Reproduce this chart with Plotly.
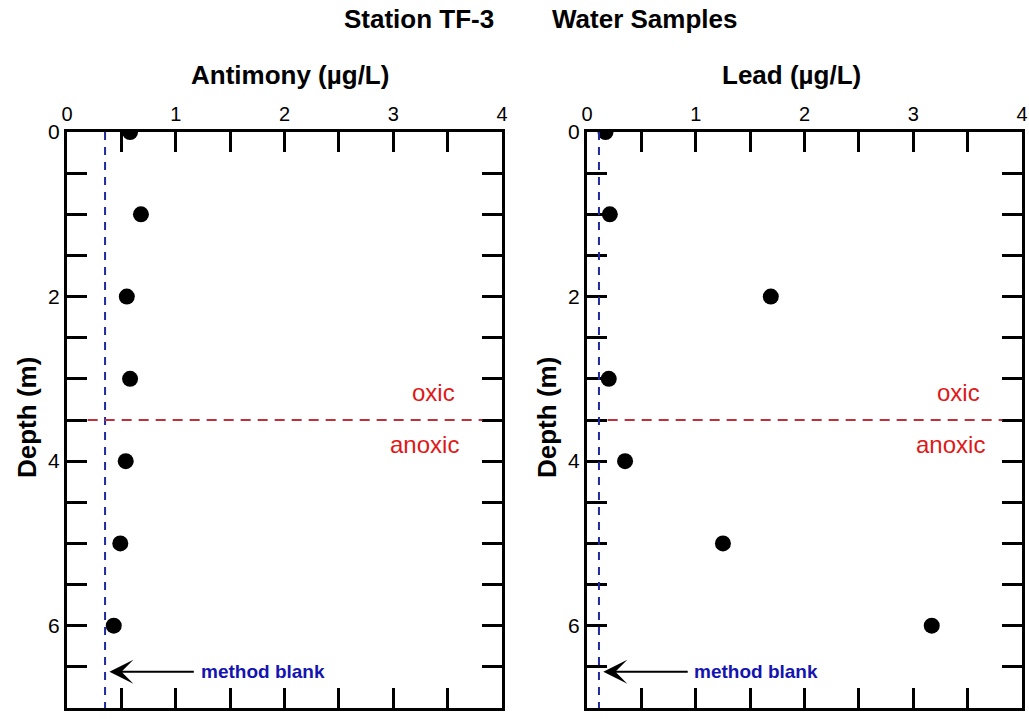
import plotly.graph_objects as go

# Sample depths and measured concentrations
depth_m = [0, 1, 2, 3, 4, 5, 6]
antimony_ugL = [0.58, 0.68, 0.55, 0.58, 0.54, 0.49, 0.43]
lead_ugL = [0.17, 0.21, 1.69, 0.20, 0.35, 1.25, 3.17]

# Method blank levels and oxic/anoxic boundary
antimony_blank = 0.35
lead_blank = 0.11
redox_depth = 3.5

x_ticks = [0, 0.5, 1, 1.5, 2, 2.5, 3, 3.5, 4]
x_ticktext = ["0", "", "1", "", "2", "", "3", "", "4"]
y_ticks = [0, 0.5, 1, 1.5, 2, 2.5, 3, 3.5, 4, 4.5, 5, 5.5, 6, 6.5, 7]
y_ticktext = ["0", "", "", "", "2", "", "", "", "4", "", "", "", "6", "", ""]

FONT = "Liberation Sans, Arial, sans-serif"
RED_LINE = "#c0303a"
RED_TEXT = "#e01818"
BLUE_LINE = "#1f2a9c"
BLUE_TEXT = "#1414b0"

fig = go.Figure()

panels = [
    ("x", "y", antimony_ugL, antimony_blank, 3.59, 3.62),
    ("x2", "y2", lead_ugL, lead_blank, 3.63, 3.68),
]

for xr, yr, values, blank, oxic_x, anoxic_x in panels:
    fig.add_trace(go.Scatter(
        x=values, y=depth_m, xaxis=xr, yaxis=yr, mode="markers",
        marker=dict(size=16, color="black"), showlegend=False,
    ))
    # method blank (vertical dashed line)
    fig.add_shape(type="line", xref=xr, yref=yr, x0=blank, x1=blank, y0=0, y1=7,
                  line=dict(color=BLUE_LINE, width=2, dash="8px,7px"))
    # oxic / anoxic boundary
    fig.add_shape(type="line", xref=xr, yref=yr, x0=0.19, x1=3.82,
                  y0=redox_depth, y1=redox_depth,
                  line=dict(color=RED_LINE, width=2, dash="10px,7px"))
    fig.add_annotation(xref=xr, yref=yr, x=oxic_x, y=3.17, text="oxic",
                       showarrow=False, xanchor="right", yanchor="middle",
                       font=dict(family=FONT, size=24, color=RED_TEXT))
    fig.add_annotation(xref=xr, yref=yr, x=anoxic_x, y=3.80, text="anoxic",
                       showarrow=False, xanchor="right", yanchor="middle",
                       font=dict(family=FONT, size=24, color=RED_TEXT))
    # arrow pointing to the method blank line
    fig.add_annotation(xref=xr, yref=yr, axref=xr, ayref=yr,
                       x=blank + 0.04, y=6.56, ax=blank + 0.83, ay=6.56, text="",
                       showarrow=True, arrowhead=3, arrowsize=2, arrowwidth=2,
                       arrowcolor="black")
    fig.add_annotation(xref=xr, yref=yr, x=blank + 0.86, y=6.56, text="<b>method blank</b>",
                       showarrow=False, xanchor="left", yanchor="middle",
                       font=dict(family=FONT, size=19, color=BLUE_TEXT))

axis_common = dict(
    showline=True, linewidth=3, linecolor="black", mirror="allticks",
    ticks="inside", ticklen=20, tickwidth=3, tickcolor="black",
    showgrid=False, zeroline=False, automargin=False,
)
x_font = dict(family=FONT, size=20, color="black")
y_font = dict(family=FONT, size=21, color="black")

left_dom = [67 / 1029, 502 / 1029]
right_dom = [587 / 1029, 1022 / 1029]
y_dom = [1 - 708 / 719, 1 - 132 / 719]

fig.update_layout(
    width=1029, height=719,
    margin=dict(l=0, r=0, t=0, b=0, autoexpand=False),
    paper_bgcolor="white", plot_bgcolor="white",
    xaxis=dict(domain=left_dom, range=[0, 4], side="top", anchor="y",
               tickvals=x_ticks, ticktext=x_ticktext, tickfont=x_font, **axis_common),
    yaxis=dict(domain=y_dom, range=[7, 0], anchor="x",
               tickvals=y_ticks, ticktext=y_ticktext, tickfont=y_font, **axis_common),
    xaxis2=dict(domain=right_dom, range=[0, 4], side="top", anchor="y2",
                tickvals=x_ticks, ticktext=x_ticktext, tickfont=x_font, **axis_common),
    yaxis2=dict(domain=y_dom, range=[7, 0], anchor="x2",
                tickvals=y_ticks, ticktext=y_ticktext, tickfont=y_font, **axis_common),
)

# Titles
title_font = dict(family=FONT, size=26, color="black")


def paper_text(xc, yc, text, angle=0):
    fig.add_annotation(xref="paper", yref="paper", x=xc / 1029, y=1 - yc / 719,
                       text=text, textangle=angle, showarrow=False,
                       xanchor="center", yanchor="middle", font=title_font)


paper_text(419, 19, "<b>Station TF-3</b>")
paper_text(644, 19, "<b>Water Samples</b>")
paper_text(290, 75, "<b>Antimony (µg/L)</b>")
paper_text(791, 75, "<b>Lead (µg/L)</b>")
for xc in (27, 547):
    paper_text(xc, 418, "<b>Depth (m)</b>", angle=-90)

fig.write_html("out.html")
